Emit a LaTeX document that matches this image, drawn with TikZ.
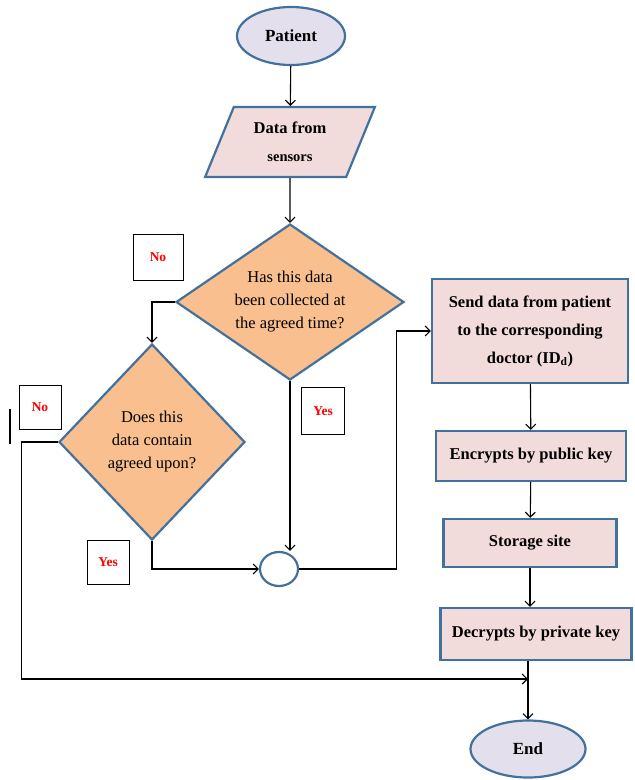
\documentclass[tikz,border=0pt]{standalone}
\usepackage{fontspec}
\setmainfont{Liberation Serif}
\usepackage{tikz}
\usetikzlibrary{positioning,calc,shapes.geometric,arrows.meta}
\definecolor{FlowBlue}{HTML}{41719C}
\definecolor{FlowPink}{HTML}{F2DCDB}
\definecolor{FlowLilac}{HTML}{E4DFEC}
\definecolor{FlowOrange}{HTML}{F9BF8F}

\begin{document}
\begin{tikzpicture}[x=1pt,y=-1pt,
    terminal/.style={ellipse,draw=FlowBlue,line width=2.2pt,fill=FlowLilac,inner sep=0pt,
      font=\bfseries\fontsize{17}{20}\selectfont},
    process/.style={rectangle,draw=FlowBlue,line width=2.2pt,fill=FlowPink,inner sep=0pt,align=center,
      font=\bfseries\fontsize{16.5}{28}\selectfont},
    decision/.style={diamond,draw=FlowBlue,line width=2.2pt,fill=FlowOrange,inner sep=0pt,align=center,
      font=\fontsize{16.5}{23}\selectfont},
    answer/.style={rectangle,draw=black,line width=0.9pt,inner sep=0pt,text=red,
      font=\bfseries\fontsize{13.5}{15}\selectfont},
    arr/.style={line width=1.1pt,-{Straight Barb[length=5pt,width=10pt]}}]
  \useasboundingbox (0,0) rectangle (635,780);

  \node[terminal,minimum width=108pt,minimum height=58pt] (patient) at (291,36) {Patient};
  \node[trapezium,trapezium left angle=65,trapezium right angle=115,trapezium stretches=true,
    draw=FlowBlue,line width=2.2pt,fill=FlowPink,inner sep=0pt,align=center,
    minimum width=170pt,minimum height=70pt,font=\bfseries\fontsize{16.5}{28}\selectfont]
    (sensors) at (290,142) {Data from\\{\fontsize{14.5}{16}\selectfont sensors}};
  \node[decision,aspect=1.46,minimum width=228pt,minimum height=156pt] (timecheck) at (290,302)
    {Has this data\\been collected at\\the agreed time?};
  \node[decision,minimum width=186pt,minimum height=196pt] (agreecheck) at (152,442)
    {Does this\\data contain\\agreed upon?};
  \node[ellipse,draw=FlowBlue,line width=2.2pt,minimum width=38pt,minimum height=34pt,inner sep=0pt]
    (join) at (279,569) {};

  \node[process,minimum width=196pt,minimum height=104pt] (send) at (530,331)
    {Send data from patient\\to the corresponding\\doctor (ID\textsubscript{d})};
  \node[process,minimum width=190pt,minimum height=50pt] (encrypt) at (531,456) {Encrypts by public key};
  \node[process,minimum width=173pt,minimum height=48pt] (storage) at (530,543) {Storage site};
  \node[process,minimum width=191pt,minimum height=52pt] (decrypt) at (536,634) {Decrypts by private key};
  \node[terminal,minimum width=115pt,minimum height=57pt] (end) at (528,749) {End};

  % answer labels
  \node[answer,minimum width=50pt,minimum height=46pt] (notime) at (158,257) {No};
  \node[answer,minimum width=43pt,minimum height=47pt] (yestime) at (323,411) {Yes};
  \node[answer,minimum width=42pt,minimum height=44pt] (noagree) at (40,407) {No};
  \node[answer,minimum width=42pt,minimum height=44pt] (yesagree) at (108,562) {Yes};

  \coordinate (meet) at (528,679);

  \draw[arr] (patient) -- (sensors);
  \draw[arr] (sensors) -- (timecheck);
  \draw[arr] (timecheck.west) -| (agreecheck.north);
  \draw[arr] (timecheck.south) -- (timecheck.south |- join.north);
  \draw[arr] (agreecheck.south) |- (join.west);
  \draw[arr] (join.east) -| ([xshift=-34pt]send.west) -- (send.west);
  \draw[arr] (send) -- (encrypt);
  \draw[arr] (encrypt) -- (storage);
  \draw[arr] (storage.south) -- (storage.south |- decrypt.north);
  \draw[arr] (decrypt.south -| end.north) -- (end.north);
  \draw[arr] (agreecheck.west) -- ++(-36,0) |- (meet);
  \draw[line width=1.1pt] (10,409) -- (10,444);
\end{tikzpicture}
\end{document}
